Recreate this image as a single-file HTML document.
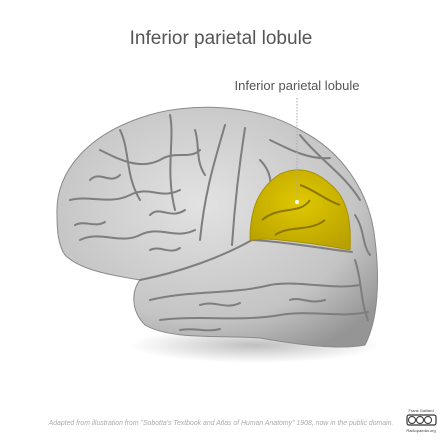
<!DOCTYPE html>
<html><head><meta charset="utf-8"><style>
body{margin:0;background:#fff;width:442px;height:442px;overflow:hidden;font-family:"Liberation Sans",sans-serif}
</style></head><body>
<svg width="442" height="442" viewBox="0 0 442 442">
<defs>
<radialGradient id="g" cx="0.45" cy="0.4" r="0.7"><stop offset="0" stop-color="#e2e2e2"/><stop offset="0.7" stop-color="#c4c4c4"/><stop offset="1" stop-color="#959595"/></radialGradient>
<radialGradient id="y" cx="0.5" cy="0.4" r="0.7"><stop offset="0" stop-color="#e0c800"/><stop offset="1" stop-color="#b8a000"/></radialGradient>
<radialGradient id="sh" cx="0.5" cy="0.5" r="0.5"><stop offset="0" stop-color="#000" stop-opacity="0.25"/><stop offset="1" stop-color="#000" stop-opacity="0"/></radialGradient>
</defs>
<text x="221" y="44" text-anchor="middle" font-size="19" fill="#555">Inferior parietal lobule</text>
<text x="297" y="90" text-anchor="middle" font-size="13" fill="#555">Inferior parietal lobule</text>
<ellipse cx="255" cy="345" rx="125" ry="18" fill="url(#sh)"/>
<path fill="url(#g)" stroke="#8a8a8a" stroke-width="1" d="M57,215 C55,170 90,135 140,118 C190,100 260,105 300,130 C340,150 370,190 375,240 C380,280 378,320 365,345 C340,350 300,345 260,338 C220,335 170,340 145,325 C130,310 132,290 140,280 C110,275 80,270 65,255 C58,245 57,230 57,215 Z"/>
<g fill="none" stroke="#7e7e7e" stroke-width="2" stroke-linecap="round">
<path d="M140,280 C180,272 220,258 252,240 C290,242 330,250 352,252"/>
<path d="M225,125 C215,160 205,190 200,240"/>
<path d="M245,128 C240,160 235,200 232,245"/>
<path d="M100,150 C120,160 140,170 160,160 C175,150 190,160 200,150"/>
<path d="M70,200 C90,195 110,205 130,195 C150,185 160,200 180,190"/>
<path d="M80,240 C100,230 120,245 140,235 C160,225 175,240 195,230"/>
<path d="M150,300 C190,290 230,295 270,285 C300,280 330,290 360,285"/>
<path d="M160,320 C200,315 240,322 280,315 C310,310 340,318 368,312"/>
<path d="M120,130 C130,150 125,175 140,200"/>
<path d="M170,115 C175,140 165,170 175,210"/>
<path d="M270,140 C290,150 310,160 330,158"/>
<path d="M300,135 C320,160 345,175 360,200"/>
<path d="M355,260 C362,280 360,300 368,320"/>
<path d="M90,180 C100,170 110,185 120,175"/>
<path d="M150,215 C160,205 170,220 185,210"/>
<path d="M75,225 C85,220 95,228 105,222"/>
<path d="M195,130 C200,145 195,160 205,175"/>
<path d="M150,250 C160,245 170,255 180,248"/>
<path d="M200,305 C215,300 225,310 240,303"/>
<path d="M290,300 C300,296 310,305 325,300"/>
<path d="M180,330 C195,327 205,333 220,329"/>
<path d="M260,160 C270,170 275,185 265,200"/>
<path d="M355,215 C365,230 362,245 370,255"/>
</g>
<path fill="url(#y)" stroke="#a89200" stroke-width="1" d="M250,240 C250,210 258,188 280,174 C298,166 315,170 330,184 C345,196 352,216 350,250 C330,246 300,242 280,240 C265,238 255,240 250,240 Z"/>
<g fill="none" stroke="#8a7800" stroke-width="2">
<path d="M262,220 C280,205 300,215 310,200"/>
<path d="M275,235 C290,225 310,232 325,220"/>
<path d="M300,185 C315,190 325,200 340,205"/>
</g>
<line x1="297" y1="98" x2="297" y2="200" stroke="#aaa" stroke-width="1" stroke-dasharray="1.5,1.5"/>
<circle cx="297" cy="202" r="2" fill="#fff"/>
<text x="221" y="425" text-anchor="middle" font-size="6.9" font-style="italic" fill="#aaa">Adapted from illustration from "Sobotta's Textbook and Atlas of Human Anatomy" 1908, now in the public domain.</text>
<g>
<text x="421" y="412" text-anchor="middle" font-size="4" fill="#444">Frank Gaillard</text>
<rect x="407" y="415" width="29" height="10" rx="2" fill="#fff" stroke="#333" stroke-width="1.2"/>
<circle cx="412" cy="420" r="3.5" fill="none" stroke="#333"/>
<circle cx="420" cy="420" r="3.5" fill="none" stroke="#333"/>
<circle cx="428" cy="420" r="3.5" fill="none" stroke="#333"/>
<text x="421" y="432" text-anchor="middle" font-size="4" fill="#444">Radiopaedia.org</text>
</g>
</svg>
</body></html>
